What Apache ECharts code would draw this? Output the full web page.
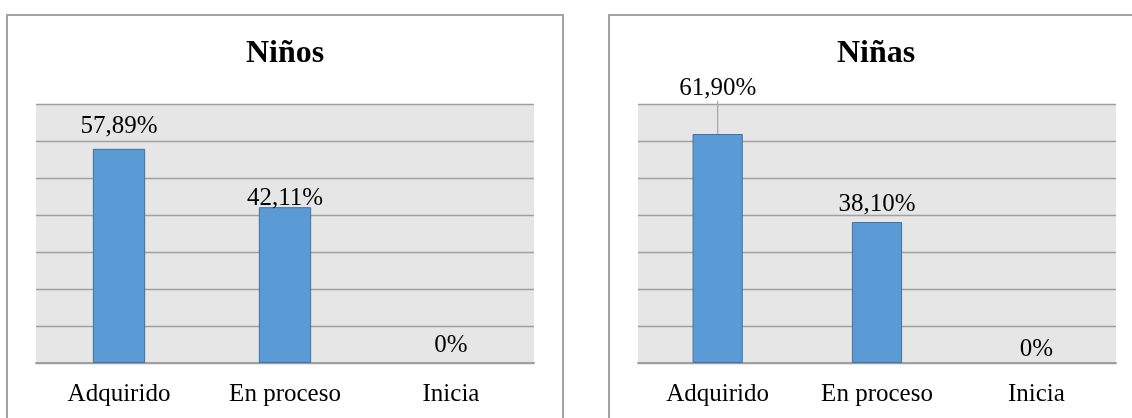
<!DOCTYPE html>
<html>
<head>
<meta charset="utf-8">
<script src="https://cdn.jsdelivr.net/npm/echarts@6/dist/echarts.min.js"></script>
<style>
html,body{margin:0;padding:0;background:#fff;}
#c{width:1132px;height:418px;}
</style>
</head>
<body>
<div id="c"></div>
<script>
// ---- data ----
const categories = ['Adquirido', 'En proceso', 'Inicia'];
const ninosValues = [57.89, 42.11, 0];
const ninasValues = [61.90, 38.10, 0];
const titles = ['Niños', 'Niñas'];
const yMin = 0, yMax = 70, yInterval = 10;

// ---- styling ----
const FONT = "'Liberation Serif', 'Times New Roman', serif";
const BAR = '#5b9bd5', BAR_BORDER = '#41719c';
const GRID_LINE = '#a0a0a0';
// per-bar label vertical nudges (styling only)
const ninosNudge = [-5, 9, 0];
const ninasNudge = [-28, 0, 4];

function fmt(v) {
  return v === 0 ? '0%' : v.toFixed(2).replace('.', ',') + '%';
}

function makeData(values, leaderIndex) {
  return values.map((v, i) => ({
    value: v,
    labelLine: { show: i === leaderIndex },
    itemStyle: v === 0 ? { borderWidth: 0, color: 'rgba(0,0,0,0)' } : undefined
  }));
}

const grids = [
  { left: 36, top: 104, width: 498, height: 259 },
  { left: 638, top: 104, width: 478, height: 259 }
];

function xAxis(gi) {
  return {
    type: 'category', gridIndex: gi, data: categories,
    axisTick: { show: false },
    axisLine: { lineStyle: { color: GRID_LINE, width: 2 } },
    axisLabel: { color: '#000', fontFamily: FONT, fontSize: 25, margin: 19 }
  };
}
function yAxis(gi) {
  return {
    type: 'value', gridIndex: gi, min: yMin, max: yMax, interval: yInterval,
    axisLabel: { show: false }, axisTick: { show: false }, axisLine: { show: false },
    splitLine: { lineStyle: { color: GRID_LINE, width: 1.3 } }
  };
}

function series(gi, values, nudges, leaderIndex) {
  return {
    type: 'bar', xAxisIndex: gi, yAxisIndex: gi, z: 3,
    data: makeData(values, leaderIndex),
    barWidth: '31.5%',
    itemStyle: { color: BAR, borderColor: BAR_BORDER, borderWidth: 1 },
    label: {
      show: true, position: 'top', distance: 5, color: '#000',
      fontFamily: FONT, fontSize: 25, formatter: p => fmt(p.value)
    },
    labelLine: { show: false, lineStyle: { color: '#a6a6a6', width: 1.2 } },
    labelLayout: function (p) {
      return { dy: nudges[p.dataIndex] };
    },
    silent: true,
    animation: false
  };
}

const chart = echarts.init(document.getElementById('c'), null, { renderer: 'canvas' });
chart.setOption({
  animation: false,
  backgroundColor: '#fff',
  title: [
    { text: titles[0], left: 280, top: 33, textAlign: 'center',
      textStyle: { fontFamily: FONT, fontSize: 32, fontWeight: 'bold', color: '#000' } },
    { text: titles[1], left: 871, top: 33, textAlign: 'center',
      textStyle: { fontFamily: FONT, fontSize: 32, fontWeight: 'bold', color: '#000' } }
  ],
  grid: grids.map(g => Object.assign({ show: true, backgroundColor: '#e6e6e6', borderWidth: 0 }, g)),
  xAxis: [xAxis(0), xAxis(1)],
  yAxis: [yAxis(0), yAxis(1)],
  series: [series(0, ninosValues, ninosNudge, -1), series(1, ninasValues, ninasNudge, 0)],
  graphic: [
    { type: 'rect', shape: { x: 7, y: 15, width: 556, height: 500 },
      style: { fill: 'none', stroke: '#a3a3a3', lineWidth: 2 }, silent: true },
    { type: 'rect', shape: { x: 609, y: 15, width: 600, height: 500 },
      style: { fill: 'none', stroke: '#a3a3a3', lineWidth: 2 }, silent: true }
  ]
});
</script>
</body>
</html>
